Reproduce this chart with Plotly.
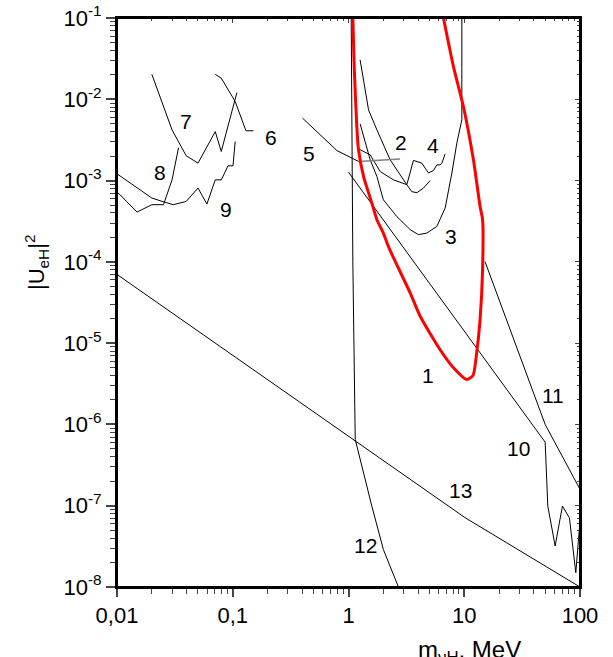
import numpy as np
import plotly.graph_objects as go

# ---- data ----
c1_x = [1.09, 1.12, 1.18, 1.22, 1.35, 1.59, 1.76, 2.0, 2.21, 2.45, 3.41, 4.16, 6.19, 8.07, 10.5, 11.9, 12.8, 13.7, 14.4, 14.4, 13.7, 12.0, 9.84, 8.07, 6.61]
c1_y = [0.1, 0.0252, 4.6e-3, 2.39e-3, 1.12e-3, 5.3e-4, 3.3e-4, 2.26e-4, 1.55e-4, 1.12e-4, 4.15e-5, 2.14e-5, 8.3e-6, 4.98e-6, 3.57e-6, 4.0e-6, 7.6e-6, 1.95e-5, 8.0e-5, 3.3e-4, 4.8e-4, 1.8e-3, 8.1e-3, 0.0252, 0.1]

c2_x = [1.19, 1.54, 1.88, 2.45, 3.19, 3.52, 3.90, 4.45, 5.08]
c2_y = [2.5e-3, 2.07e-3, 1.29e-3, 1.02e-3, 8.9e-4, 7.3e-4, 7.1e-4, 8.1e-4, 1.0e-3]

c3_x = [1.26, 1.54, 1.76, 2.0, 2.62, 3.41, 4.02, 4.75, 5.8, 6.84, 7.82, 8.63, 9.53, 9.53]
c3_y = [4.99e-3, 1.8e-3, 1.12e-3, 5.8e-4, 3.6e-4, 2.49e-4, 2.16e-4, 2.26e-4, 2.73e-4, 4.6e-4, 1.24e-3, 2.89e-3, 5.6e-3, 0.1]

c4_x = [1.26, 1.49, 1.76, 2.29, 3.19, 3.64, 4.30, 4.91, 5.42, 5.80, 6.19, 6.41, 6.84]
c4_y = [0.0305, 7.4e-3, 4.2e-3, 1.8e-3, 8.9e-4, 1.77e-3, 1.64e-3, 1.24e-3, 1.33e-3, 1.56e-3, 1.56e-3, 1.64e-3, 2.13e-3]

c5_x = [0.401, 0.794, 1.22]
c5_y = [5.86e-3, 2.34e-3, 1.72e-3]
c5b_x = [1.22, 2.79]
c5b_y = [1.72e-3, 1.84e-3]

c6_x = [0.0706, 0.0796, 0.105, 0.130, 0.151]
c6_y = [0.0203, 0.0182, 9.4e-3, 4.1e-3, 4.1e-3]

c7_x = [0.02, 0.0299, 0.0396, 0.0501, 0.0706, 0.0796, 0.1086]
c7_y = [0.0203, 4.2e-3, 2.02e-3, 1.64e-3, 4.0e-3, 2.28e-3, 0.0121]

c8_x = [0.01, 0.0149, 0.02, 0.0252, 0.0299, 0.034]
c8_y = [7.28e-4, 4.1e-4, 5.05e-4, 5.05e-4, 1.02e-3, 2.53e-3]

c9_x = [0.01, 0.02, 0.025, 0.0306, 0.0396, 0.0501, 0.0598, 0.0706, 0.0796, 0.091, 0.1005, 0.105]
c9_y = [1.21e-3, 6.1e-4, 5.5e-4, 5.05e-4, 5.54e-4, 8.1e-4, 5.14e-4, 1.02e-3, 1.02e-3, 1.52e-3, 1.52e-3, 3.02e-3]

c10_x = [1.0, 50.0, 52.7, 61, 70.5, 81, 92, 100]
c10_y = [1.27e-3, 6.05e-7, 9.9e-8, 3.2e-8, 9.9e-8, 7.1e-8, 1.5e-8, 6.5e-8]

c11_x = [15.1, 50, 100]
c11_y = [1.01e-4, 1.0e-6, 1.59e-7]

c12_x = [1.055, 1.09, 1.143, 1.26, 1.59, 2.0, 2.70]
c12_y = [0.1, 1e-4, 6.55e-7, 3.7e-7, 9.9e-8, 2.9e-8, 1e-8]

c13_x = [0.01, 10.2, 100]
c13_y = [7e-5, 7.1e-8, 1e-8]

label_text = ["1", "2", "3", "4", "5", "6", "7", "8", "9", "10", "11", "12", "13"]
label_x = [4.88, 2.83, 7.66, 5.42, 0.458, 0.214, 0.0396, 0.0233, 0.0879, 29.4, 58.6, 1.39, 9.23]
label_y = [4.0e-6, 2.94e-3, 2.06e-4, 2.68e-3, 2.18e-3, 3.42e-3, 5.3e-3, 1.24e-3, 4.38e-4, 5.0e-7, 2.24e-6, 3.27e-8, 1.55e-7]

x_tickvals = [0.01, 0.1, 1, 10, 100]
x_ticktext = ["0,01", "0,1", "1", "10", "100"]
y_tickvals = [1e-8, 1e-7, 1e-6, 1e-5, 1e-4, 1e-3, 1e-2, 1e-1]
y_ticktext = ["10<sup>-8</sup>", "10<sup>-7</sup>", "10<sup>-6</sup>", "10<sup>-5</sup>",
              "10<sup>-4</sup>", "10<sup>-3</sup>", "10<sup>-2</sup>", "10<sup>-1</sup>"]

FONT = "Liberation Sans, Arial, sans-serif"

fig = go.Figure()

black_curves = [(c2_x, c2_y), (c3_x, c3_y), (c4_x, c4_y), (c5_x, c5_y), (c6_x, c6_y),
                (c7_x, c7_y), (c8_x, c8_y), (c9_x, c9_y), (c10_x, c10_y), (c11_x, c11_y),
                (c12_x, c12_y), (c13_x, c13_y)]
for cx, cy in black_curves:
    fig.add_trace(go.Scatter(x=cx, y=cy, mode="lines",
                             line=dict(color="black", width=1), showlegend=False,
                             hoverinfo="skip"))
fig.add_trace(go.Scatter(x=c5b_x, y=c5b_y, mode="lines",
                         line=dict(color="#808080", width=1.5), showlegend=False))
fig.add_trace(go.Scatter(x=c1_x, y=c1_y, mode="lines",
                         line=dict(color="#ff0000", width=3, shape="spline", smoothing=0.6),
                         showlegend=False))
# invisible trace for mirrored (top/right) axes
fig.add_trace(go.Scatter(x=[0.01], y=[1e-8], xaxis="x2", yaxis="y2", mode="markers",
                         marker=dict(opacity=0), showlegend=False, hoverinfo="skip"))

def minor_vals(lo, hi):
    vals = []
    for d in range(lo, hi):
        for m in range(2, 10):
            vals.append(m * 10.0 ** d)
    return vals

common = dict(type="log", showgrid=False, zeroline=False, showline=True,
              linecolor="black", linewidth=2, automargin=False)

fig.update_layout(
    width=613, height=657,
    margin=dict(l=117, r=33, t=18, b=70, autoexpand=False),
    paper_bgcolor="white", plot_bgcolor="white",
    font=dict(family=FONT, color="black"),
    xaxis=dict(**common, range=[-2, 2], tickmode="array", tickvals=x_tickvals,
               ticktext=x_ticktext, ticks="outside", ticklen=8, tickwidth=1.5,
               tickfont=dict(size=22, family=FONT),
               minor=dict(tickmode="array", tickvals=minor_vals(-2, 2), ticks="outside",
                          ticklen=5, tickwidth=1)),
    yaxis=dict(**common, range=[-8, -1], tickmode="array", tickvals=y_tickvals,
               ticktext=y_ticktext, ticks="outside", ticklen=9, tickwidth=1.5,
               tickfont=dict(size=22, family=FONT),
               minor=dict(tickmode="array", tickvals=minor_vals(-8, -1), ticks="outside",
                          ticklen=5, tickwidth=1)),
    xaxis2=dict(**common, range=[-2, 2], overlaying="x", side="top", anchor="y2",
                tickmode="array", tickvals=x_tickvals, ticks="inside", ticklen=5,
                showticklabels=False,
                minor=dict(tickmode="array", tickvals=minor_vals(-2, 2), ticks="inside",
                           ticklen=3)),
    yaxis2=dict(**common, range=[-8, -1], overlaying="y", side="right", anchor="x2",
                tickmode="array", tickvals=y_tickvals, ticks="inside", ticklen=5,
                showticklabels=False,
                minor=dict(tickmode="array", tickvals=minor_vals(-8, -1), ticks="inside",
                           ticklen=3)),
)

# plot frame
fig.add_shape(type="rect", xref="paper", yref="paper", x0=0, x1=1, y0=0, y1=1,
              line=dict(color="black", width=2), fillcolor="rgba(0,0,0,0)", layer="above")

for t, lx, ly in zip(label_text, label_x, label_y):
    fig.add_annotation(x=np.log10(lx), y=np.log10(ly), xref="x", yref="y", text=t,
                       showarrow=False, font=dict(size=21, family=FONT, color="black"),
                       xanchor="center", yanchor="middle")

fig.add_annotation(x=-0.175, y=0.571, xref="paper", yref="paper",
                   text="|U<sub>eH</sub>|<sup>2</sup>", textangle=-90, showarrow=False,
                   font=dict(size=22, family=FONT, color="black"),
                   xanchor="center", yanchor="middle")
fig.add_annotation(x=0.762, y=-0.083, xref="paper", yref="paper",
                   text="m<sub>νH</sub>, MeV", showarrow=False,
                   font=dict(size=24, family=FONT, color="black"),
                   xanchor="center", yanchor="top")

fig.write_html("out.html", config={"displayModeBar": False},
               post_script="document.body.style.margin='0px';document.body.style.overflow='hidden';")
